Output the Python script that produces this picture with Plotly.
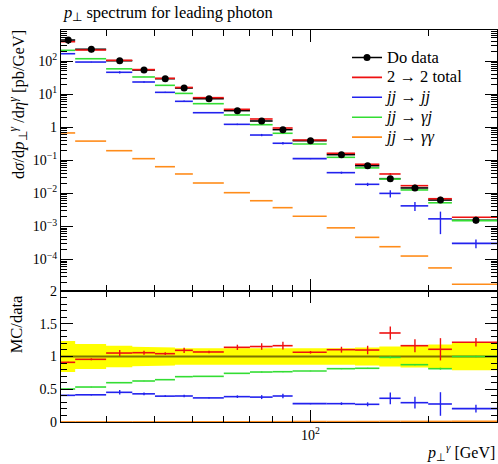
import plotly.graph_objects as go

# ---- data ----
edges = [23, 25, 30, 35, 40, 45, 50, 60, 70, 80, 90, 110, 130, 150, 170, 200, 230, 300]

data_vals = [430, 226, 102, 53.4, 29.2, 15.3, 7.26, 3.16, 1.54, 0.843, 0.392, 0.148,
             0.0687, 0.0278, 0.0146, 0.0063, 0.00155]
data_relerr = [0.235, 0.19, 0.163, 0.148, 0.137, 0.127, 0.122, 0.122, 0.12, 0.125,
               0.122, 0.125, 0.137, 0.153, 0.168, 0.183, 0.21]

tot_vals = [383, 215, 105, 55, 30, 15.9, 7.8, 3.47, 1.77, 0.946, 0.41, 0.163,
            0.076, 0.0386, 0.0171, 0.0069, 0.0019]
jj_vals = [166, 93, 45.6, 23.2, 11.3, 6.05, 2.74, 1.22, 0.58, 0.327, 0.112, 0.0423,
           0.0188, 0.01, 0.0042, 0.0017, 0.00031]
gj_vals = [210, 117, 58, 32.9, 18.4, 10.5, 5.13, 2.34, 1.19, 0.655, 0.311, 0.123,
           0.059, 0.0272, 0.0127, 0.0052, 0.0015]
gg_vals = [0.67, 0.38, 0.195, 0.112, 0.064, 0.0386, 0.0206, 0.0105, 0.006, 0.0037,
           0.00204, 0.00091, 0.00047, 0.000245, 0.000128, 5.6e-5, 1.8e-5]

tot_ratio = [0.911, 0.957, 1.053, 1.058, 1.043, 1.094, 1.069, 1.14, 1.152, 1.165,
             1.064, 1.104, 1.099, 1.359, 1.165, 1.11, 1.217]
tot_rerr = [0.01, 0.015, 0.045, 0.03, 0.02, 0.04, 0.02, 0.04, 0.05, 0.06,
            0.02, 0.045, 0.065, 0.1, 0.1, 0.17, 0.065]
jj_ratio = [0.407, 0.415, 0.453, 0.43, 0.395, 0.397, 0.368, 0.387, 0.38, 0.397,
            0.28, 0.28, 0.27, 0.362, 0.295, 0.275, 0.204]
jj_rerr = [0.01, 0.01, 0.035, 0.02, 0.015, 0.02, 0.01, 0.02, 0.03, 0.035,
           0.01, 0.02, 0.03, 0.09, 0.09, 0.18, 0.06]
gj_ratio = [0.504, 0.534, 0.6, 0.626, 0.646, 0.692, 0.697, 0.743, 0.763, 0.768,
            0.779, 0.814, 0.82, 0.987, 0.875, 0.814, 1.0]
gj_rerr = [0.005, 0.005, 0.005, 0.005, 0.005, 0.005, 0.005, 0.005, 0.008, 0.008,
           0.005, 0.008, 0.008, 0.015, 0.01, 0.015, 0.01]
gg_ratio = [0.0016, 0.0017, 0.0019, 0.0021, 0.0022, 0.0025, 0.0028, 0.0033, 0.0039,
            0.0044, 0.0052, 0.0061, 0.0068, 0.0088, 0.0088, 0.0089, 0.0116]

data_name = "Do data"
names = ["2 → 2 total", "<i>jj</i> → <i>jj</i>", "<i>jj</i> → <i>γj</i>", "<i>jj</i> → <i>γγ</i>"]
colors = ["#ee1111", "#2222ee", "#33dd33", "#ff8c1a"]

FONT = "Liberation Serif"

lo = edges[:-1]
hi = edges[1:]
centers = [(a + b) / 2 for a, b in zip(lo, hi)]


def steps(vals):
    xs, ys = [], []
    for a, b, v in zip(lo, hi, vals):
        xs += [a, b, None]
        ys += [v, v, None]
    return xs, ys


def big(t):
    return '<span style="font-size:16.5px">' + t + '</span>'


fig = go.Figure()

# legend entry for data
fig.add_trace(go.Scatter(x=[None], y=[None], mode="lines+markers", name=big(data_name),
                         line=dict(color="black", width=1.6),
                         marker=dict(color="black", size=7), xaxis="x", yaxis="y"))

# data horizontal bars (main)
xs, ys = steps(data_vals)
fig.add_trace(go.Scatter(x=xs, y=ys, mode="lines", line=dict(color="black", width=1.6),
                         showlegend=False, hoverinfo="skip", xaxis="x", yaxis="y"))

mains = [tot_vals, jj_vals, gj_vals, gg_vals]
ratios = [tot_ratio, jj_ratio, gj_ratio, gg_ratio]
rerrs = [tot_rerr, jj_rerr, gj_rerr, [0.0] * len(gg_ratio)]

for name, col, mv, rv, re in zip(names, colors, mains, ratios, rerrs):
    xs, ys = steps(mv)
    fig.add_trace(go.Scatter(x=xs, y=ys, mode="lines", name=big(name),
                             line=dict(color=col, width=1.6), xaxis="x", yaxis="y"))
    abs_err = [m * (e / r) if r > 0 else 0 for m, e, r in zip(mv, re, rv)]
    fig.add_trace(go.Scatter(x=centers, y=mv, mode="markers", marker=dict(size=0.1, color=col),
                             error_y=dict(type="data", array=abs_err, color=col, thickness=1.4, width=0),
                             showlegend=False, hoverinfo="skip", xaxis="x", yaxis="y"))

# data markers with error bars (main)
fig.add_trace(go.Scatter(x=centers, y=data_vals, mode="markers",
                         marker=dict(color="black", size=7),
                         error_y=dict(type="data", array=[v * e for v, e in zip(data_vals, data_relerr)],
                                      color="black", thickness=1.4, width=0),
                         showlegend=False, hoverinfo="skip", xaxis="x", yaxis="y"))

# ---- ratio panel ----
bx, by = [], []
for a, b, e in zip(lo, hi, data_relerr):
    bx += [a, b]
    by += [1 + e, 1 + e]
for a, b, e in zip(reversed(lo), reversed(hi), reversed(data_relerr)):
    bx += [b, a]
    by += [1 - e, 1 - e]
fig.add_trace(go.Scatter(x=bx, y=by, mode="lines", fill="toself", fillcolor="#ffff00",
                         line=dict(width=0, color="#ffff00"), showlegend=False,
                         hoverinfo="skip", xaxis="x2", yaxis="y2"))
fig.add_trace(go.Scatter(x=[edges[0], edges[-1]], y=[1, 1], mode="lines",
                         line=dict(color="rgba(70,60,0,0.7)", width=1.8), showlegend=False,
                         hoverinfo="skip", xaxis="x2", yaxis="y2"))

for col, rv, re in zip(colors, ratios, rerrs):
    xs, ys = steps(rv)
    fig.add_trace(go.Scatter(x=xs, y=ys, mode="lines", line=dict(color=col, width=1.6),
                             showlegend=False, hoverinfo="skip", xaxis="x2", yaxis="y2"))
    fig.add_trace(go.Scatter(x=centers, y=rv, mode="markers", marker=dict(size=0.1, color=col),
                             error_y=dict(type="data", array=re, color=col, thickness=1.4, width=0),
                             showlegend=False, hoverinfo="skip", xaxis="x2", yaxis="y2"))

# ---- axes ----
x_major = [100]
x_minor = [30, 40, 50, 60, 70, 80, 90, 200, 300]
y_major = [1e-4, 1e-3, 1e-2, 1e-1, 1, 10, 100]
y_major_txt = ["10<sup>−4</sup>", "10<sup>−3</sup>", "10<sup>−2</sup>", "10<sup>−1</sup>",
               "1", "10<sup>1</sup>", "10<sup>2</sup>"]
y_minor = [k * 10 ** n for n in range(-5, 3) for k in range(2, 10)]
r_major = [0, 0.5, 1, 1.5, 2]
r_minor = [i / 10 for i in range(0, 21)]

tickfont = dict(family=FONT, size=14, color="black")
split = 131 / 392

common_x = dict(type="log", range=[1.3617, 2.4771], showgrid=False, zeroline=False,
                showline=True, linecolor="black", linewidth=1.2, mirror="allticks",
                ticks="inside", ticklen=12, tickwidth=1, tickcolor="black",
                tickvals=x_major, ticktext=["10<sup>2</sup>"], tickfont=tickfont,
                minor=dict(tickvals=x_minor, ticks="inside", ticklen=6, tickcolor="black", tickwidth=1))

fig.update_layout(
    width=498, height=464,
    margin=dict(l=61, r=1, t=30, b=42, autoexpand=False),
    paper_bgcolor="white", plot_bgcolor="white",
    font=dict(family=FONT, size=14, color="black"),
    xaxis=dict(common_x, anchor="y", matches="x2", showticklabels=False),
    xaxis2=dict(common_x, anchor="y2", showticklabels=True),
    yaxis=dict(type="log", domain=[split, 1], range=[-4.949, 2.9366], showgrid=False,
               zeroline=False, showline=True, linecolor="black", linewidth=1.2,
               mirror="allticks", ticks="inside", ticklen=12, tickwidth=1, tickcolor="black",
               tickvals=y_major, ticktext=y_major_txt, tickfont=tickfont,
               minor=dict(tickvals=y_minor, ticks="inside", ticklen=6, tickcolor="black", tickwidth=1)),
    yaxis2=dict(domain=[0, split], range=[0, 2], showgrid=False, zeroline=False,
                showline=True, linecolor="black", linewidth=1.2, mirror="allticks",
                ticks="inside", ticklen=12, tickwidth=1, tickcolor="black",
                tickvals=r_major, ticktext=["0", "0.5", "1", "1.5", "2"], tickfont=tickfont,
                minor=dict(tickvals=r_minor, ticks="inside", ticklen=6, tickcolor="black", tickwidth=1)),
    legend=dict(x=0.656, y=0.968, xanchor="left", yanchor="top", bgcolor="rgba(0,0,0,0)",
                font=dict(family=FONT, size=13, color="black"), tracegroupgap=0),
    showlegend=True,
    annotations=[
        dict(text="<i>p</i><sub>⊥</sub> spectrum for leading photon", xref="paper", yref="paper",
             x=0, y=1.0, yshift=5, xanchor="left", yanchor="bottom", showarrow=False,
             font=dict(family=FONT, size=16.5)),
        dict(text="d<i>σ</i>/d<i>p</i><sub>⊥</sub><sup><i>γ</i></sup> /d<i>η</i><sup><i>γ</i></sup> [pb/GeV]",
             xref="paper", yref="paper", x=-0.1, y=1.005, xanchor="center", yanchor="top",
             textangle=-90, showarrow=False, font=dict(family=FONT, size=16.5)),
        dict(text="MC/data", xref="paper", yref="paper", x=-0.1, y=split - 0.005, xanchor="center",
             yanchor="top", textangle=-90, showarrow=False, font=dict(family=FONT, size=16.5)),
        dict(text="<i>p</i><sub>⊥</sub><sup><i>γ</i></sup> [GeV]", xref="paper", yref="paper",
             x=1.0, y=-0.077, xanchor="right", yanchor="middle", showarrow=False,
             font=dict(family=FONT, size=16)),
    ],
)

fig.write_html("out.html", config={"displayModeBar": False},
               post_script="document.body.style.margin='0';document.body.style.overflow='hidden';")
